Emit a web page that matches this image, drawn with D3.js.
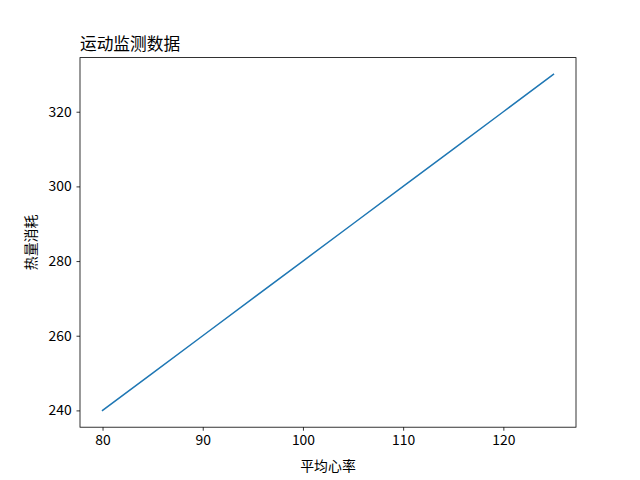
<!DOCTYPE html>
<html>
<head>
<meta charset="utf-8">
<script src="https://cdn.jsdelivr.net/npm/d3@7"></script>
<style>
  body { margin: 0; background: #fff; }
  text { font-family: "Noto Sans CJK SC", "DejaVu Sans", sans-serif; }
</style>
</head>
<body>
<svg id="chart"></svg>
<script>
// data
var heartRate = [80, 85, 90, 95, 100, 105, 110, 115, 120, 125];
var calories = [240, 250, 260, 270, 280, 290, 300, 310, 320, 330];
var xTicks = [80, 90, 100, 110, 120];
var yTicks = [240, 260, 280, 300, 320];

var margin = { top: 57.6, right: 64, bottom: 52.8, left: 80 },
    width = 640 - margin.left - margin.right,
    height = 480 - margin.top - margin.bottom;

var svg = d3.select("#chart")
    .attr("width", 640)
    .attr("height", 480);

var g = svg.append("g")
    .attr("transform", "translate(" + margin.left + "," + margin.top + ")");

// matplotlib-like 5% padding
var xPad = (d3.max(heartRate) - d3.min(heartRate)) * 0.05;
var yPad = (d3.max(calories) - d3.min(calories)) * 0.05;

var x = d3.scaleLinear()
    .domain([d3.min(heartRate) - xPad, d3.max(heartRate) + xPad])
    .range([0, width]);

var y = d3.scaleLinear()
    .domain([d3.min(calories) - yPad, d3.max(calories) + yPad])
    .range([height, 0]);

var xAxis = g.append("g")
    .attr("transform", "translate(0," + height + ")")
    .call(d3.axisBottom(x).tickValues(xTicks).tickSize(3.5).tickPadding(4.9));

var yAxis = g.append("g")
    .call(d3.axisLeft(y).tickValues(yTicks).tickSize(3.5).tickPadding(4.9));

[xAxis, yAxis].forEach(function (a) {
    a.select(".domain").remove();
    a.selectAll("line").attr("stroke", "black").attr("stroke-width", 0.8);
    a.selectAll("text").attr("font-size", "13.9px").attr("fill", "black")
        .style("font-family", "'Noto Sans CJK SC', sans-serif");
});

var line = d3.line()
    .x(function (d, i) { return x(heartRate[i]); })
    .y(function (d) { return y(d); });

g.append("path")
    .datum(calories)
    .attr("d", line)
    .attr("fill", "none")
    .attr("stroke", "#1f77b4")
    .attr("stroke-width", 1.5)
    .attr("stroke-linecap", "square");

// frame
g.append("rect")
    .attr("width", width)
    .attr("height", height)
    .attr("fill", "none")
    .attr("stroke", "black")
    .attr("stroke-width", 0.8);

// title
g.append("text")
    .attr("x", 0)
    .attr("y", -8)
    .attr("font-size", "16.7px")
    .text("运动监测数据");

// axis labels
g.append("text")
    .attr("x", width / 2)
    .attr("y", height + 44)
    .attr("text-anchor", "middle")
    .attr("font-size", "13.9px")
    .text("平均心率");

g.append("text")
    .attr("transform", "translate(-44," + (height / 2) + ") rotate(-90)")
    .attr("text-anchor", "middle")
    .attr("font-size", "13.9px")
    .text("热量消耗");
</script>
</body>
</html>
